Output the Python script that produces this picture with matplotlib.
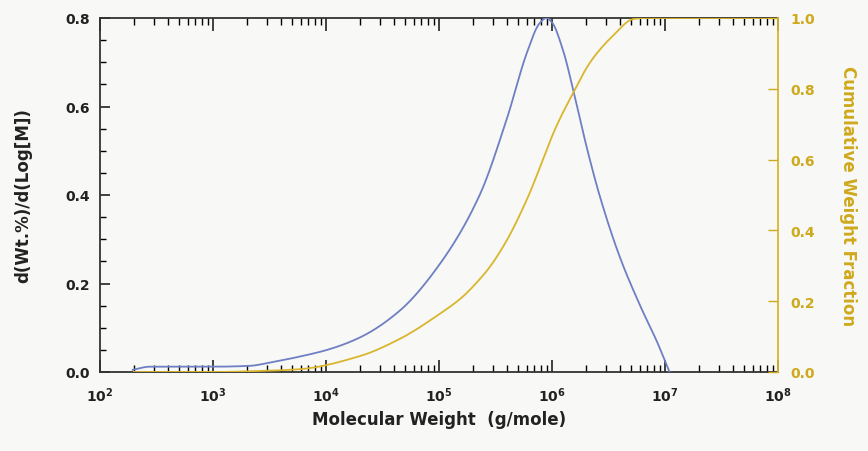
import numpy as np
import matplotlib
matplotlib.use("Agg")
import matplotlib.pyplot as plt
from matplotlib.ticker import LogLocator, FixedLocator, NullFormatter

plt.rcParams['font.family'] = ['DejaVu Sans']

# Differential distribution (left axis)
blue_logM = [2.29, 2.44, 3.00, 3.33, 3.48, 3.77, 4.01, 4.30, 4.65, 5.01, 5.36,
             5.60, 5.78, 5.89, 5.95, 6.00, 6.10, 6.19, 6.31, 6.42, 6.60, 6.78,
             6.93, 7.04]
blue_val = [0.005, 0.012, 0.012, 0.014, 0.020, 0.035, 0.050, 0.078, 0.138, 0.245,
            0.400, 0.572, 0.723, 0.788, 0.800, 0.790, 0.725, 0.635, 0.505, 0.400,
            0.260, 0.150, 0.068, 0.0]

# Cumulative weight fraction (right axis)
gold_logM = [2.30, 3.00, 3.42, 3.77, 4.30, 4.65, 5.01, 5.20, 5.36, 5.45, 5.60,
             5.78, 6.04, 6.19, 6.34, 6.54, 6.72, 6.82, 8.00]
gold_val = [0.0, 0.0, 0.003, 0.008, 0.045, 0.093, 0.165, 0.210, 0.262, 0.297, 0.372,
            0.489, 0.695, 0.79, 0.876, 0.95, 0.997, 1.0, 1.0]

BLUE = '#6e7fc4'
GOLD = '#d9b62c'
GOLD_TXT = '#cfa91c'
BG = '#f8f8f6'
DARK = '#222222'

fig = plt.figure(figsize=(8.68, 4.52), dpi=100, facecolor=BG)
ax = fig.add_axes([100/868, 79/452, 678/868, 354/452])
ax.set_facecolor(BG)
ax2 = ax.twinx()

def smooth(xs, ys, n=400):
    xs = np.asarray(xs, float); ys = np.asarray(ys, float)
    xx = np.linspace(xs[0], xs[-1], n)
    h = np.diff(xs); d = np.diff(ys) / h
    m = np.zeros_like(ys)
    for i in range(1, len(xs) - 1):
        if d[i-1] * d[i] <= 0:
            m[i] = 0
        else:
            w1 = 2*h[i] + h[i-1]; w2 = h[i] + 2*h[i-1]
            m[i] = (w1 + w2) / (w1/d[i-1] + w2/d[i])
    m[0] = d[0]; m[-1] = d[-1]
    yy = np.empty_like(xx)
    idx = np.clip(np.searchsorted(xs, xx) - 1, 0, len(xs) - 2)
    for k, (x, i) in enumerate(zip(xx, idx)):
        t = (x - xs[i]) / h[i]
        h00 = 2*t**3 - 3*t**2 + 1; h10 = t**3 - 2*t**2 + t
        h01 = -2*t**3 + 3*t**2; h11 = t**3 - t**2
        yy[k] = h00*ys[i] + h10*h[i]*m[i] + h01*ys[i+1] + h11*h[i]*m[i+1]
    return 10**xx, yy

bx, by = smooth(blue_logM, blue_val)
gx, gy = smooth(gold_logM, gold_val)

ax.plot(bx, by, color=BLUE, lw=1.3, zorder=3)
ax2.plot(gx, gy, color=GOLD, lw=1.3, zorder=3)

ax.set_xscale('log')
ax.set_xlim(1e2, 1e8)
ax.set_ylim(0, 0.8)
ax2.set_ylim(0, 1.0)

ax.xaxis.set_major_locator(FixedLocator([1e2, 1e3, 1e4, 1e5, 1e6, 1e7, 1e8]))
ax.set_xticklabels([r'$\mathbf{10^{%d}}$' % e for e in range(2, 9)])
ax.xaxis.set_minor_locator(LogLocator(base=10, subs=np.arange(2, 10), numticks=100))
ax.xaxis.set_minor_formatter(NullFormatter())
ax.set_yticks([0.0, 0.2, 0.4, 0.6, 0.8])
ax.set_yticklabels(['0.0', '0.2', '0.4', '0.6', '0.8'])
ax.yaxis.set_minor_locator(FixedLocator(np.arange(0, 0.81, 0.05)))
ax2.set_yticks([0.0, 0.2, 0.4, 0.6, 0.8, 1.0])
ax2.set_yticklabels(['0.0', '0.2', '0.4', '0.6', '0.8', '1.0'])

ax.tick_params(axis='x', which='major', direction='in', length=9, width=1.2,
               top=True, bottom=True, labelsize=10, colors=DARK, pad=10)
ax.tick_params(axis='x', which='minor', direction='in', length=5, width=1.0,
               top=True, bottom=True)
ax.tick_params(axis='y', which='major', direction='in', length=7, width=1.2,
               left=True, right=False, labelsize=10, colors=DARK, pad=7)
ax.tick_params(axis='y', which='minor', direction='in', length=4, width=1.0,
               left=True, right=False)
ax2.tick_params(axis='y', which='major', direction='in', length=7, width=1.0,
                colors=GOLD_TXT, labelsize=10, pad=9)

for lab in ax.get_xticklabels() + ax.get_yticklabels() + ax2.get_yticklabels():
    lab.set_fontweight('bold')

for s in ['left', 'bottom', 'top']:
    ax.spines[s].set_color('#333333')
    ax.spines[s].set_linewidth(1.3)
ax.spines['right'].set_visible(False)
ax2.spines['right'].set_color(GOLD)
ax2.spines['right'].set_linewidth(1.3)
for s in ['left', 'bottom', 'top']:
    ax2.spines[s].set_visible(False)

ax.set_xlabel('Molecular Weight  (g/mole)', fontsize=12, fontweight='bold',
              color=DARK, labelpad=4)
ax.set_ylabel('d(Wt.%)/d(Log[M])', fontsize=12, fontweight='bold',
              color=DARK, labelpad=24)
ax2.set_ylabel('Cumulative Weight Fraction', fontsize=12, fontweight='bold',
               color=GOLD_TXT, rotation=-90, labelpad=30)

fig.savefig('out.png', dpi=100, facecolor=BG)
